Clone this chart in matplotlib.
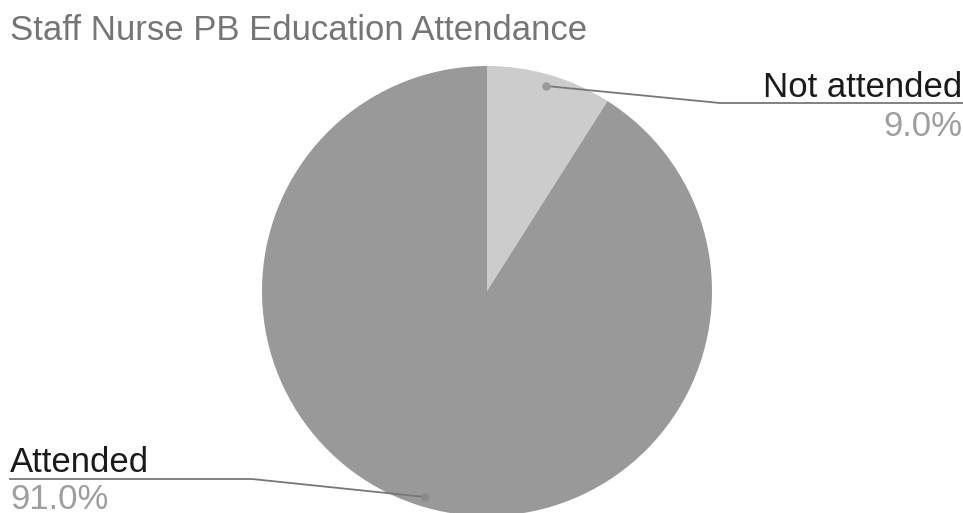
import matplotlib.pyplot as plt

labels = ['Not attended', 'Attended']
shares = [9.0, 91.0]
colors = ['#cccccc', '#999999']

W, H = 963, 513
fig = plt.figure(figsize=(W / 100, H / 100), dpi=100)
ax = fig.add_axes([0, 0, 1, 1])

cx, cy, r = 487, H - 291, 225
ax.pie(shares, colors=colors, startangle=90, counterclock=False,
       center=(cx, cy), radius=r, frame=True)
ax.set_xlim(0, W)
ax.set_ylim(0, H)
ax.set_aspect('equal')
ax.axis('off')

font = 'Liberation Sans'
fs = 25

# title
fig.text(10 / W, 1 - 40 / H, 'Staff Nurse PB Education Attendance', fontsize=fs,
         color='#757575', family=font, ha='left', va='baseline')

line_c = '#777777'
# Not attended leader
ax.plot([546, 720, W], [H - 86, H - 103, H - 103], color=line_c, lw=1.3)
ax.plot(546, H - 86, 'o', color='#999999', ms=5)
ax.text(962, H - 97, labels[0], fontsize=fs, color='#1a1a1a', family=font,
        ha='right', va='baseline')
ax.text(962, H - 136, f'{shares[0]:.1f}%', fontsize=fs, color='#9e9e9e',
        family=font, ha='right', va='baseline')

# Attended leader
ax.plot([425, 252, 10], [H - 497, H - 479, H - 479], color=line_c, lw=1.3)
ax.plot(425, H - 497, 'o', color='#8a8a8a', ms=5)
ax.text(10, H - 472, labels[1], fontsize=fs, color='#1a1a1a', family=font,
        ha='left', va='baseline')
ax.text(10, H - 509, f'{shares[1]:.1f}%', fontsize=fs, color='#9e9e9e',
        family=font, ha='left', va='baseline')

fig.savefig('out.png', dpi=100)
